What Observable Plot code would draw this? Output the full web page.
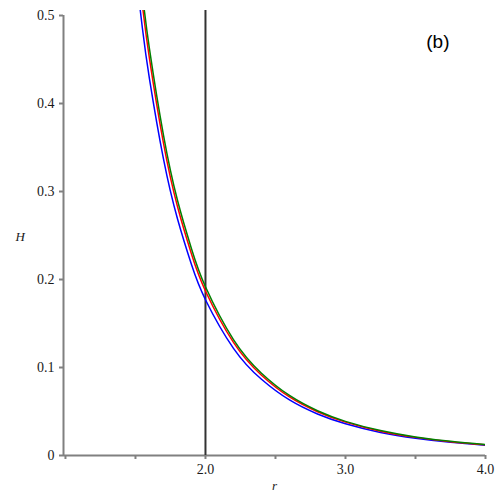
<!DOCTYPE html>
<html>
<head>
<meta charset="utf-8">
<script src="https://cdn.jsdelivr.net/npm/d3@7"></script>
<script src="https://cdn.jsdelivr.net/npm/@observablehq/plot@0.6"></script>
<style>
  html, body { margin: 0; padding: 0; background: #fff; }
  #chart svg { display: block; }
  #chart svg text { font-family: 'Liberation Serif', 'DejaVu Serif', serif; }
  #chart svg text.panel-label, #chart svg g.panel-label text { font-family: 'Liberation Sans', 'DejaVu Sans', sans-serif; }
</style>
</head>
<body>
<div id="chart"></div>
<script>
// Sampled r values and H readings for each curve
const rValues = [1.5, 1.55, 1.6, 1.7, 1.8, 1.9, 2.0, 2.2, 2.4, 2.6, 2.8, 3.0, 3.25, 3.5, 3.75, 4.0];
const redH   = [0.581, 0.511, 0.451, 0.355, 0.283, 0.229, 0.187, 0.1285, 0.0912, 0.0665, 0.0497, 0.0379, 0.0276, 0.0206, 0.0157, 0.0122];
const greenH = [0.596, 0.524, 0.462, 0.364, 0.290, 0.235, 0.1917, 0.1317, 0.0935, 0.0682, 0.0509, 0.0388, 0.0283, 0.0211, 0.0161, 0.0125];
const blueH  = [0.552, 0.485, 0.428, 0.337, 0.269, 0.217, 0.1770, 0.1218, 0.0866, 0.0631, 0.0472, 0.0360, 0.0262, 0.0196, 0.0150, 0.0117];

const seriesNames = ["blue", "red", "green"];
const seriesColors = ["#0000ff", "#ff0000", "#008000"];
const seriesValues = [blueH, redH, greenH];

const verticalLine = [2.0];
const xTicks = [1.0, 1.5, 2.0, 2.5, 3.0, 3.5, 4.0];
const xLabelTicks = [2.0, 3.0, 4.0];
const yTicks = [0, 0.1, 0.2, 0.3, 0.4, 0.5];
const xDomain = [0.986, 4.0];
const yDomain = [0, 0.5057];
const yAxisSpan = [0, 0.5];

const data = [];
seriesNames.forEach((name, i) => {
  rValues.forEach((r, j) => data.push({series: name, r, H: seriesValues[i][j]}));
});

const axisGray = "#808080";
const textColor = "#1a1a1a";

const chart = Plot.plot({
  width: 500,
  height: 500,
  marginLeft: 63,
  marginRight: 15,
  marginTop: 10,
  marginBottom: 45,
  style: {fontFamily: "'Liberation Serif', 'DejaVu Serif', serif", fontSize: "14px", background: "#fff"},
  x: {domain: xDomain},
  y: {domain: yDomain},
  color: {domain: seriesNames, range: seriesColors},
  marks: [
    // axis lines
    Plot.ruleY([0], {stroke: axisGray, strokeWidth: 2}),
    Plot.ruleX([xDomain[0]], {y1: yAxisSpan[0], y2: yAxisSpan[1], stroke: axisGray, strokeWidth: 2}),
    // ticks
    Plot.axisX({ticks: xTicks, tickSize: 4, tickPadding: 5, stroke: axisGray, strokeWidth: 2, fill: textColor,
      fontSize: 14, tickFormat: d => xLabelTicks.includes(d) ? d.toFixed(1) : "", label: null}),
    Plot.axisY({ticks: yTicks, tickSize: 4, tickPadding: 5, stroke: axisGray, strokeWidth: 2, fill: textColor,
      fontSize: 14, tickFormat: d => d === 0 ? "0" : d.toFixed(1), label: null}),
    // vertical line at r = 2
    Plot.ruleX(verticalLine, {stroke: "#333", strokeWidth: 2}),
    // curves
    Plot.line(data, {x: "r", y: "H", z: "series", stroke: "series", strokeWidth: 1.5, curve: "natural", clip: true}),
    // labels
    Plot.text(["H"], {frameAnchor: "left", dx: -48, dy: 4, fontStyle: "italic", fontSize: 13, fill: textColor}),
    Plot.text(["r"], {frameAnchor: "bottom", dy: 34, fontStyle: "italic", fontSize: 13, fill: textColor}),
    Plot.text(["(b)"], {frameAnchor: "top-right", dx: -36, dy: 24, fontSize: 19, className: "panel-label", fill: "#000"})
  ]
});

document.getElementById("chart").appendChild(chart);
</script>
</body>
</html>
